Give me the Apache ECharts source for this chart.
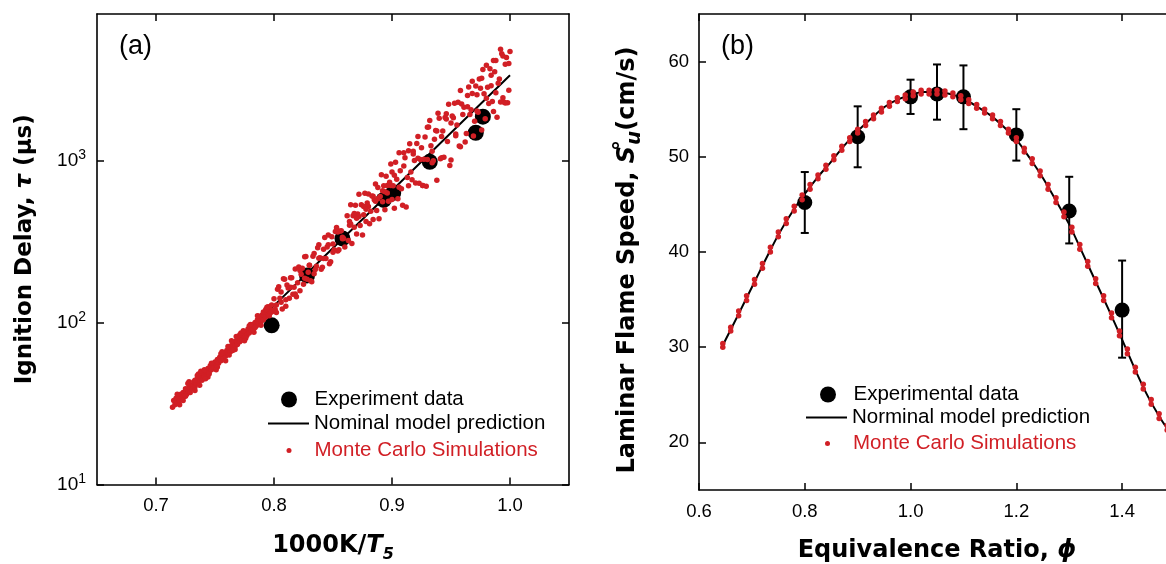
<!DOCTYPE html>
<html><head><meta charset="utf-8">
<script src="https://cdn.jsdelivr.net/npm/echarts@6/dist/echarts.min.js"></script>
<style>html,body{margin:0;padding:0;background:#fff}#c{width:1166px;height:564px}</style>
</head><body><div id="c"></div>
<script>
// ---------- Panel (a): ignition delay ----------
const invTTicks = [0.7, 0.8, 0.9, 1.0];
const tauTicks = [10, 100, 1000];
const tauTickExp = ['1', '2', '3'];
const expInvT = [0.798, 0.828, 0.858, 0.893, 0.901, 0.932, 0.971, 0.977];
const expTau = [96, 195, 330, 570, 630, 980, 1480, 1860];
const nomInvT = [0.715, 0.75, 0.80, 0.85, 0.90, 0.95, 1.0];
const nomTau = [32, 56, 127, 288, 652, 1480, 3350];
const mcTau = [
[0.714,30],[0.715,33],[0.716,31],[0.717,34],[0.718,32],[0.719,35],[0.720,33],[0.721,36],[0.722,34],[0.723,37],
[0.724,35],[0.725,39],[0.726,36],[0.727,38],[0.728,40],[0.729,37],[0.730,41],[0.731,39],[0.732,43],[0.733,40],
[0.734,42],[0.735,45],[0.736,43],[0.737,41],[0.738,46],[0.739,44],[0.740,48],[0.741,46],[0.742,50],[0.743,47],
[0.744,52],[0.745,49],[0.746,54],[0.747,51],[0.748,55],[0.749,53],[0.750,57],[0.751,54],[0.752,59],[0.753,56],
[0.754,61],[0.755,58],[0.756,63],[0.757,60],[0.758,65],[0.759,62],[0.760,67],[0.761,64],[0.762,70],[0.763,66],
[0.764,72],[0.765,69],[0.766,75],[0.767,71],[0.768,77],[0.769,73],[0.770,80],[0.771,76],[0.772,82],[0.773,78],
[0.774,85],[0.775,81],[0.776,88],[0.777,83],[0.778,91],[0.779,86],[0.780,94],[0.781,89],[0.782,97],[0.783,92],
[0.784,100],[0.785,95],[0.786,104],[0.787,98],[0.788,107],[0.789,101],[0.790,111],[0.791,104],[0.792,115],[0.793,108],
[0.794,119],[0.795,112],[0.796,123],[0.797,115],[0.798,128],[0.799,119],
[0.736,48],[0.752,53],[0.768,82],[0.783,87],[0.791,116],[0.727,42],[0.744,46],[0.761,71],[0.776,80],[0.787,109],
[0.720,31],[0.733,44],[0.757,65],[0.771,84],[0.795,125],
[0.718,36],[0.723,33],[0.728,43],[0.733,38],[0.738,50],[0.742,45],[0.747,56],[0.751,51],[0.755,64],[0.759,58],
[0.764,77],[0.767,68],[0.772,86],[0.775,77],[0.779,95],[0.782,90],[0.786,110],[0.789,96],[0.793,120],[0.796,110],
[0.725,35],[0.735,47],[0.745,48],[0.756,66],[0.765,67],[0.774,89],[0.784,93],[0.794,124],[0.741,51],[0.762,63],[0.780,97],[0.798,116],
[0.800,140],[0.802,115],[0.804,166],[0.806,133],[0.808,186],[0.810,126],[0.812,163],[0.814,189],[0.816,149],[0.818,214],
[0.820,176],[0.822,157],[0.824,216],[0.826,254],[0.828,185],[0.830,225],[0.832,178],[0.834,266],[0.836,222],[0.838,301],
[0.840,213],[0.842,283],[0.844,248],[0.846,346],[0.848,237],[0.850,305],[0.852,364],[0.854,276],[0.856,366],[0.858,335],[0.860,292],
[0.801,120],[0.803,160],[0.805,141],[0.807,121],[0.809,185],[0.811,170],[0.813,141],[0.815,189],[0.817,165],[0.819,144],
[0.821,220],[0.823,198],[0.825,172],[0.827,255],[0.829,204],[0.831,181],[0.833,256],[0.835,212],[0.837,289],[0.839,251],
[0.841,219],[0.843,334],[0.845,292],[0.847,230],[0.849,338],[0.851,281],[0.853,385],[0.855,281],[0.857,368],[0.859,330],
[0.802,128],[0.806,154],[0.810,138],[0.814,165],[0.818,150],[0.822,209],[0.826,187],[0.830,225],[0.834,200],[0.838,249],
[0.842,248],[0.846,302],[0.850,271],[0.854,362],[0.858,328],
[0.862,455],[0.863,320],[0.864,398],[0.865,533],[0.866,307],[0.867,456],[0.868,386],[0.869,529],[0.870,351],[0.871,466],
[0.872,618],[0.873,397],[0.874,533],[0.875,346],[0.876,462],[0.877,626],[0.878,419],[0.879,545],[0.880,620],[0.881,406],
[0.882,486],[0.883,603],[0.884,432],[0.885,572],[0.886,716],[0.887,491],[0.888,681],[0.889,436],[0.890,598],[0.891,816],
[0.892,555],[0.893,698],[0.894,496],[0.895,799],[0.896,629],[0.897,559],[0.898,732],[0.899,949],[0.900,574],[0.865,405],
[0.864,420],[0.868,470],[0.872,450],[0.876,520],[0.880,520],[0.884,600],[0.888,580],[0.892,650],[0.896,700],[0.899,700],
[0.870,440],[0.878,500],[0.886,560],[0.894,640],
[0.900,848],[0.902,506],[0.904,766],[0.906,1114],[0.908,669],[0.910,922],[0.912,516],[0.914,1148],[0.916,847],[0.918,1095],
[0.920,724],[0.922,1403],[0.924,1014],[0.926,699],[0.928,1393],[0.930,1013],[0.932,1762],[0.934,967],[0.936,1352],[0.938,753],
[0.940,1821],[0.942,1402],[0.944,1046],[0.946,1801],[0.948,2220],[0.950,1006],[0.952,1835],[0.954,1453],[0.956,2285],[0.958,1214],[0.960,1916],
[0.901,696],[0.903,973],[0.905,580],[0.907,863],[0.909,529],[0.911,1039],[0.913,783],[0.915,1268],[0.917,758],[0.919,997],
[0.921,1270],[0.923,722],[0.925,1198],[0.927,1015],[0.929,692],[0.931,1604],[0.933,1231],[0.935,995],[0.937,1530],[0.939,1951],
[0.941,1022],[0.943,1517],[0.945,1840],[0.947,1309],[0.949,931],[0.951,1879],[0.953,2253],[0.955,1653],[0.957,1228],[0.959,2228],
[0.902,809],[0.906,683],[0.910,1114],[0.914,697],[0.918,1139],[0.922,1029],[0.926,699],[0.930,1599],[0.934,1138],[0.938,1519],
[0.942,1038],[0.946,1939],[0.950,1701],[0.954,1421],[0.958,2698],
[0.962,1296],[0.964,2511],[0.966,1922],[0.968,3078],[0.970,1743],[0.972,2544],[0.974,3176],[0.976,1539],[0.978,2572],[0.980,3866],
[0.982,2246],[0.984,3353],[0.986,1999],[0.988,4131],[0.990,2987],[0.992,4851],[0.994,2430],[0.996,3924],[0.998,2270],[1.000,4690],
[0.961,2125],[0.963,1464],[0.965,2836],[0.967,2052],[0.969,1413],[0.971,2877],[0.973,1983],[0.975,2783],[0.977,3634],[0.979,1806],
[0.981,2824],[0.983,3679],[0.985,2306],[0.987,3522],[0.989,1847],[0.991,3181],[0.993,4542],[0.995,2284],[0.997,4307],[0.999,2703],
[0.964,2139],[0.968,2582],[0.972,2014],[0.976,3213],[0.980,2416],[0.984,2888],[0.988,2616],[0.992,2293],[0.996,2260],[0.999,3955],
[0.994,4405],[0.986,4131]
];

// ---------- Panel (b): laminar flame speed ----------
const phiTicks = [0.6, 0.8, 1.0, 1.2, 1.4];
const suTicks = [20, 30, 40, 50, 60];
const expPhi = [0.8, 0.9, 1.0, 1.05, 1.1, 1.2, 1.3, 1.4];
const expSu = [45.2, 52.1, 56.3, 56.6, 56.3, 52.3, 44.3, 33.9];
const expSuLo = [42.0, 48.9, 54.5, 53.9, 52.9, 49.6, 40.9, 28.9];
const expSuHi = [48.4, 55.3, 58.1, 59.7, 59.6, 55.0, 47.9, 39.1];
const nomPhi = [0.645,0.675,0.70,0.725,0.75,0.775,0.80,0.825,0.85,0.875,0.90,0.925,0.95,0.975,1.0,1.025,1.05,1.075,1.10,1.125,1.15,1.175,1.20,1.225,1.25,1.275,1.30,1.325,1.35,1.375,1.40,1.425,1.45,1.475,1.485];
const nomSu = [30.2,33.5,36.3,39.1,41.8,44.1,46.1,47.9,49.5,51.2,52.7,54.0,55.2,56.0,56.5,56.8,56.8,56.6,56.1,55.3,54.4,53.2,51.8,49.9,47.8,45.4,42.9,39.9,36.9,33.9,30.8,27.6,24.7,22.3,21.5];
const mcSu = [
[0.645,30.0],[0.645,30.4],[0.66,31.7],[0.66,32.1],[0.675,33.3],[0.675,33.8],[0.69,34.9],[0.69,35.4],[0.705,36.6],[0.705,37.1],
[0.72,38.3],[0.72,38.8],[0.735,40.0],[0.735,40.5],[0.75,41.6],[0.75,42.1],[0.765,43.0],[0.765,43.5],[0.78,44.3],[0.78,44.8],
[0.795,45.5],[0.795,46.0],[0.81,46.6],[0.81,47.1],[0.825,47.7],[0.825,48.1],[0.84,48.7],[0.84,49.1],[0.855,49.7],[0.855,50.1],
[0.87,50.7],[0.87,51.1],[0.885,51.6],[0.885,52.0],[0.90,52.5],[0.90,52.9],[0.915,53.3],[0.915,53.7],[0.93,54.0],[0.93,54.4],
[0.945,54.7],[0.945,55.1],[0.96,55.3],[0.96,55.7],[0.975,55.8],[0.975,56.2],[0.99,56.1],[0.99,56.5],[1.005,56.4],[1.005,56.8],
[1.02,56.6],[1.02,57.0],[1.035,56.6],[1.035,57.0],[1.05,56.6],[1.05,57.0],[1.065,56.5],[1.065,56.9],[1.08,56.3],[1.08,56.7],
[1.095,56.0],[1.095,56.4],[1.11,55.6],[1.11,56.0],[1.125,55.1],[1.125,55.5],[1.14,54.6],[1.14,55.0],[1.155,54.0],[1.155,54.4],
[1.17,53.3],[1.17,53.7],[1.185,52.5],[1.185,52.9],[1.20,51.6],[1.20,52.0],[1.215,50.5],[1.215,50.9],[1.23,49.3],[1.23,49.8],
[1.245,48.0],[1.245,48.5],[1.26,46.6],[1.26,47.1],[1.275,45.2],[1.275,45.7],[1.29,43.7],[1.29,44.2],[1.305,42.1],[1.305,42.6],
[1.32,40.3],[1.32,40.8],[1.335,38.5],[1.335,39.0],[1.35,36.7],[1.35,37.2],[1.365,34.9],[1.365,35.4],[1.38,33.1],[1.38,33.6],
[1.395,31.2],[1.395,31.7],[1.41,29.3],[1.41,29.8],[1.425,27.4],[1.425,27.9],[1.44,25.6],[1.44,26.1],[1.455,24.0],[1.455,24.5],
[1.47,22.5],[1.47,23.0],[1.485,21.3],[1.485,21.8]
];

const FONT = '"Liberation Sans", Arial, Helvetica, sans-serif';
const BOLDFONT = 'DejaVu Sans';
const RED = '#d11f25';
const axisLineStyle = { color: '#000', width: 1.6 };
const tickStyle = { color: '#000', width: 1.5 };

function tickOnly(gridIndex, pos, min, max, ticks, type) {
  return {
    gridIndex, position: pos, type: type || 'value', min, max,
    axisLine: { show: true, onZero: false, lineStyle: axisLineStyle },
    axisTick: { show: true, inside: true, length: 7, customValues: ticks, lineStyle: tickStyle },
    axisLabel: { show: false },
    splitLine: { show: false }
  };
}
function legendBox(name, icon, left, top, h, color) {
  return {
    data: [{ name: name, icon: icon }], left: left, top: top, padding: 0,
    itemWidth: 41, itemHeight: h, selectedMode: false,
    textStyle: { fontFamily: FONT, fontSize: 20.5, color: color }
  };
}

const chart = echarts.init(document.getElementById('c'), null, { renderer: 'canvas' });
const option = {
  animation: false,
  backgroundColor: '#fff',
  grid: [
    { left: 97, top: 14, width: 472, height: 470.5, outerBoundsMode: 'none', containLabel: false },
    { left: 699, top: 14, width: 476, height: 476, outerBoundsMode: 'none', containLabel: false }
  ],
  xAxis: [
    {
      gridIndex: 0, position: 'bottom', type: 'value', min: 0.65, max: 1.05,
      axisLine: { show: true, onZero: false, lineStyle: axisLineStyle },
      axisTick: { show: true, inside: true, length: 7, customValues: invTTicks, lineStyle: tickStyle },
      axisLabel: { customValues: invTTicks, formatter: v => v.toFixed(1), fontFamily: FONT, fontSize: 18.5, color: '#000', margin: 12 },
      splitLine: { show: false },
      name: '1000K/{i|T}{s|5}', nameLocation: 'middle', nameGap: 44,
      nameTextStyle: {
        fontFamily: BOLDFONT, fontSize: 24, fontWeight: 'bold', color: '#000', lineHeight: 34,
        rich: {
          i: { fontFamily: BOLDFONT, fontSize: 24, fontWeight: 'bold', fontStyle: 'italic', color: '#000', lineHeight: 34 },
          s: { fontFamily: BOLDFONT, fontSize: 16, fontWeight: 'bold', fontStyle: 'italic', color: '#000', lineHeight: 12, verticalAlign: 'bottom' }
        }
      }
    },
    tickOnly(0, 'top', 0.65, 1.05, invTTicks),
    {
      gridIndex: 1, position: 'bottom', type: 'value', min: 0.6, max: 1.5,
      axisLine: { show: true, onZero: false, lineStyle: axisLineStyle },
      axisTick: { show: true, inside: true, length: 7, customValues: phiTicks, lineStyle: tickStyle },
      axisLabel: { customValues: phiTicks, formatter: v => v.toFixed(1), fontFamily: FONT, fontSize: 18.5, color: '#000', margin: 12 },
      splitLine: { show: false },
      name: 'Equivalence Ratio, {i|ϕ}', nameLocation: 'middle', nameGap: 46,
      nameTextStyle: {
        fontFamily: BOLDFONT, fontSize: 24, fontWeight: 'bold', color: '#000', lineHeight: 30,
        rich: { i: { fontFamily: BOLDFONT, fontSize: 24, fontWeight: 'bold', fontStyle: 'italic', color: '#000', lineHeight: 30 } }
      }
    },
    tickOnly(1, 'top', 0.6, 1.5, phiTicks)
  ],
  yAxis: [
    {
      gridIndex: 0, position: 'left', type: 'log', logBase: 10, min: 10, max: 8000,
      axisLine: { show: true, onZero: false, lineStyle: axisLineStyle },
      axisTick: { show: true, inside: true, length: 7, customValues: tauTicks, lineStyle: tickStyle },
      axisLabel: {
        customValues: tauTicks, margin: 11,
        formatter: v => '{b|10}{s|' + tauTickExp[tauTicks.indexOf(Math.round(v))] + '}',
        rich: {
          b: { fontFamily: FONT, fontSize: 19, color: '#000', lineHeight: 24 },
          s: { fontFamily: FONT, fontSize: 14, color: '#000', lineHeight: 11, verticalAlign: 'top' }
        }
      },
      splitLine: { show: false },
      name: 'Ignition Delay, {i|τ} (μs)', nameLocation: 'middle', nameGap: 57, nameRotate: 90,
      nameTextStyle: {
        fontFamily: BOLDFONT, fontSize: 23, fontWeight: 'bold', color: '#000', lineHeight: 30,
        rich: { i: { fontFamily: BOLDFONT, fontSize: 23, fontWeight: 'bold', fontStyle: 'italic', color: '#000', lineHeight: 30 } }
      }
    },
    tickOnly(0, 'right', 10, 8000, tauTicks, 'log'),
    {
      gridIndex: 1, position: 'left', type: 'value', min: 15, max: 65,
      axisLine: { show: true, onZero: false, lineStyle: axisLineStyle },
      axisTick: { show: true, inside: true, length: 7, customValues: suTicks, lineStyle: tickStyle },
      axisLabel: { customValues: suTicks, fontFamily: FONT, fontSize: 18.5, color: '#000', margin: 10 },
      splitLine: { show: false },
      name: 'Laminar Flame Speed, {i|S}{sup|°}{sub|u}(cm/s)', nameLocation: 'middle', nameGap: 54, nameRotate: 90,
      nameTextStyle: {
        fontFamily: BOLDFONT, fontSize: 24, fontWeight: 'bold', color: '#000', lineHeight: 34, padding: [0, 16, 0, 0],
        rich: {
          i: { fontFamily: BOLDFONT, fontSize: 24, fontWeight: 'bold', fontStyle: 'italic', color: '#000', lineHeight: 34 },
          sup: { fontFamily: BOLDFONT, fontSize: 22, fontWeight: 'bold', color: '#000', lineHeight: 14, verticalAlign: 'top', width: 1, align: 'left' },
          sub: { fontFamily: BOLDFONT, fontSize: 20, fontWeight: 'bold', fontStyle: 'italic', color: '#000', lineHeight: 14, verticalAlign: 'bottom' }
        }
      }
    }
  ],
  legend: [
    legendBox('Experiment data', 'circle', 281, 389, 16, '#000'),
    legendBox('Nominal model prediction', 'rect', 268, 413, 2, '#000'),
    legendBox('Monte Carlo Simulations', 'circle', 286.5, 440, 5, RED),
    legendBox('Experimental data', 'circle', 820, 384, 16, '#000'),
    legendBox('Norminal model prediction', 'rect', 806, 407, 2, '#000'),
    legendBox('Monte Carlo Simulations', 'circle', 825, 433, 5, RED)
  ],
  graphic: [
    { type: 'text', left: 119, top: 33, style: { text: '(a)', font: '27px "Liberation Sans", Arial, sans-serif', fill: '#000' } },
    { type: 'text', left: 721, top: 33, style: { text: '(b)', font: '27px "Liberation Sans", Arial, sans-serif', fill: '#000' } }
  ],
  series: [
    {
      name: 'Experiment data', type: 'scatter', xAxisIndex: 0, yAxisIndex: 0,
      data: expInvT.map((x, i) => [x, expTau[i]]), symbol: 'circle', symbolSize: 16,
      itemStyle: { color: '#000', opacity: 1 }, z: 2
    },
    {
      name: 'Nominal model prediction', type: 'line', xAxisIndex: 0, yAxisIndex: 0,
      data: nomInvT.map((x, i) => [x, nomTau[i]]), symbol: 'none', smooth: false,
      lineStyle: { color: '#000', width: 2 }, itemStyle: { color: '#000' }, z: 3
    },
    {
      name: 'Monte Carlo Simulations', type: 'scatter', xAxisIndex: 0, yAxisIndex: 0,
      data: mcTau, symbol: 'circle', symbolSize: 5.5, itemStyle: { color: RED, opacity: 1 }, z: 4
    },
    {
      name: 'errbars', type: 'custom', xAxisIndex: 2, yAxisIndex: 2,
      data: expPhi.map((x, i) => [x, expSuLo[i], expSuHi[i]]),
      encode: { x: 0, y: [1, 2] },
      renderItem: (params, api) => {
        const x = api.value(0);
        const pLo = api.coord([x, api.value(1)]);
        const pHi = api.coord([x, api.value(2)]);
        const w = 4;
        const st = { stroke: '#000', lineWidth: 2 };
        return {
          type: 'group', children: [
            { type: 'line', shape: { x1: pLo[0], y1: pLo[1], x2: pHi[0], y2: pHi[1] }, style: st },
            { type: 'line', shape: { x1: pLo[0] - w, y1: pLo[1], x2: pLo[0] + w, y2: pLo[1] }, style: st },
            { type: 'line', shape: { x1: pHi[0] - w, y1: pHi[1], x2: pHi[0] + w, y2: pHi[1] }, style: st }
          ]
        };
      },
      z: 1
    },
    {
      name: 'Experimental data', type: 'scatter', xAxisIndex: 2, yAxisIndex: 2,
      data: expPhi.map((x, i) => [x, expSu[i]]), symbol: 'circle', symbolSize: 15,
      itemStyle: { color: '#000', opacity: 1 }, z: 2
    },
    {
      name: 'Norminal model prediction', type: 'line', xAxisIndex: 2, yAxisIndex: 2,
      data: nomPhi.map((x, i) => [x, nomSu[i]]), symbol: 'none', smooth: 0.3,
      lineStyle: { color: '#000', width: 2 }, itemStyle: { color: '#000' }, z: 3
    },
    {
      name: 'Monte Carlo Simulations', type: 'scatter', xAxisIndex: 2, yAxisIndex: 2,
      data: mcSu, symbol: 'circle', symbolSize: 5.5, itemStyle: { color: RED, opacity: 1 }, z: 4
    }
  ]
};
chart.setOption(option);
</script>
</body></html>
